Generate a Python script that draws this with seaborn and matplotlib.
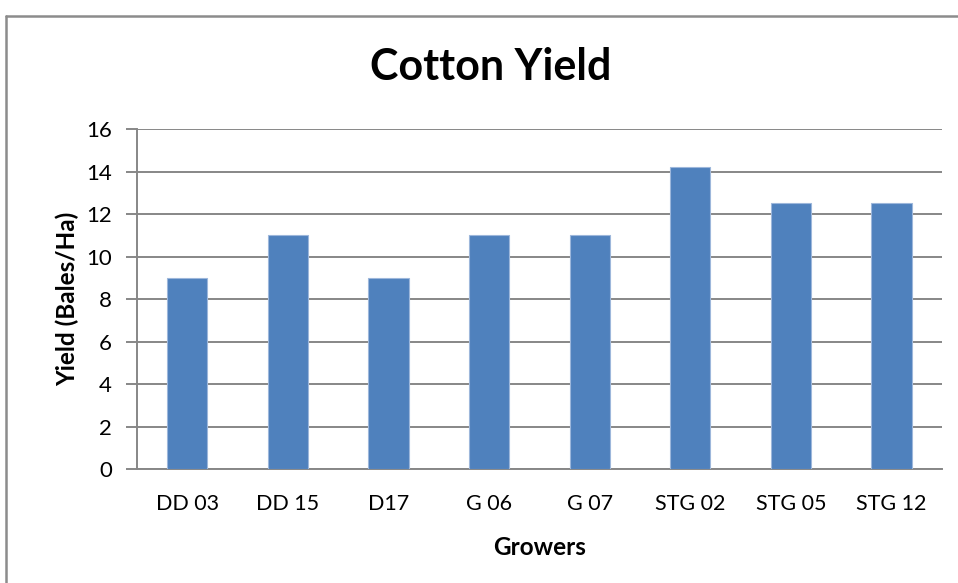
import matplotlib
matplotlib.use("Agg")
import matplotlib.pyplot as plt
import seaborn as sns
import pandas as pd
from matplotlib.lines import Line2D

growers = ["DD 03", "DD 15", "D17", "G 06", "G 07", "STG 02", "STG 05", "STG 12"]
yields = [9, 11, 9, 11, 11, 14.2, 12.5, 12.5]
y_ticks = [0, 2, 4, 6, 8, 10, 12, 14, 16]

sns.set_theme(style="white")
plt.rcParams["font.family"] = ["Lato", "DejaVu Sans"]

df = pd.DataFrame({"Growers": growers, "Yield": yields})

fig = plt.figure(figsize=(9.58, 5.83), dpi=100)
ax = fig.add_axes([0.143, 0.1955, 0.840, 0.5832])

grid_c = "#878787"
sns.barplot(data=df, x="Growers", y="Yield", color="#4F81BD", saturation=1,
            width=0.4, edgecolor="#9DB7DB", linewidth=0.8, ax=ax, zorder=3)

ax.set_ylim(0, 16)
ax.set_xlim(-0.5, len(growers) - 0.5)
ax.set_yticks(y_ticks)
ax.set_yticklabels([str(t) for t in y_ticks])
ax.yaxis.grid(True, color=grid_c, linewidth=1.4, zorder=0)
ax.set_axisbelow(True)

for s in ["top", "right"]:
    ax.spines[s].set_visible(False)
for s in ["left", "bottom"]:
    ax.spines[s].set_color(grid_c)
    ax.spines[s].set_linewidth(1.4)

ax.set_xticks([i - 0.5 for i in range(len(growers) + 1)], minor=True)
ax.tick_params(axis="x", which="minor", length=7, width=1.4, color=grid_c, direction="out")
ax.tick_params(axis="x", which="major", length=0, pad=18, labelsize=15.5, labelcolor="black")
ax.tick_params(axis="y", which="major", length=8, width=1.4, color=grid_c, direction="out",
               labelsize=16, labelcolor="black", pad=10, left=True)

ax.set_xlabel("Growers", fontsize=17.5, fontweight="bold", color="black")
ax.set_ylabel("Yield (Bales/Ha)", fontsize=17.5, fontweight="bold", color="black")
ax.yaxis.set_label_coords(-0.072, 0.5)
ax.xaxis.set_label_coords(0.5, -0.197)

fig.text(0.512, 0.885, "Cotton Yield", ha="center", va="center",
         fontsize=31, fontweight="bold", color="black")

# chart-area frame (left and top edges)
fig.add_artist(Line2D([6 / 958, 6 / 958], [0, 1 - 16 / 583], color="#8C8C8C",
                      linewidth=1.8, transform=fig.transFigure))
fig.add_artist(Line2D([6 / 958, 1], [1 - 16 / 583, 1 - 16 / 583], color="#8C8C8C",
                      linewidth=1.8, transform=fig.transFigure))

fig.savefig("out.png", dpi=100)
